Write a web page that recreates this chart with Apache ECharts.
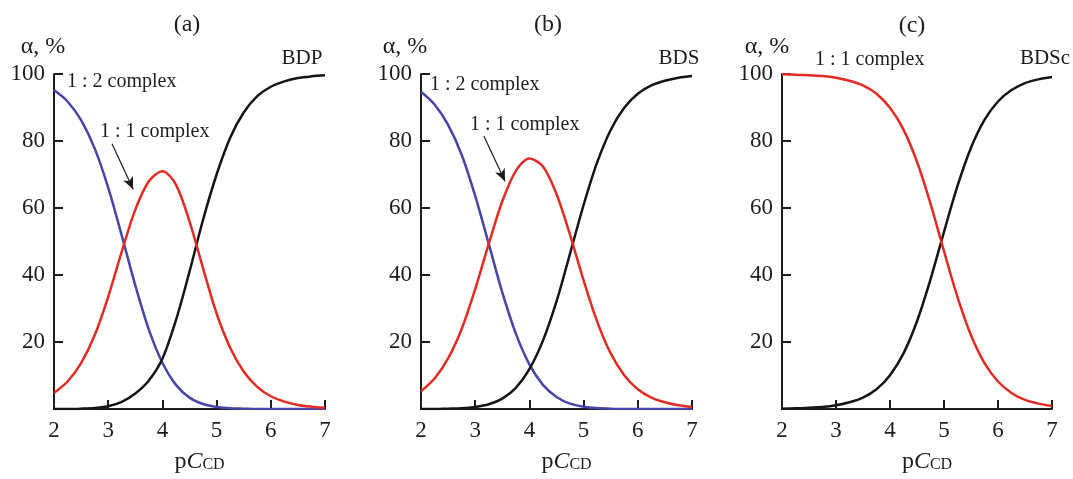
<!DOCTYPE html>
<html>
<head>
<meta charset="utf-8">
<script src="https://cdn.jsdelivr.net/npm/echarts@6/dist/echarts.min.js"></script>
<style>
  html, body { margin: 0; padding: 0; background: #fff; }
  #chart { width: 1073px; height: 479px; }
</style>
</head>
<body>
<div id="chart"></div>
<script>
// pC_CD values along the x axis
const pC = [2, 2.25, 2.5, 2.75, 3, 3.25, 3.5, 3.75, 4, 4.25, 4.5, 4.75, 5, 5.25, 5.5, 5.75, 6, 6.25, 6.5, 6.75, 7]
const xTicks = [2, 3, 4, 5, 6, 7]
const yTicks = [0, 20, 40, 60, 80, 100]

// (a) BDP
const bdp12 = [95.2, 91.8, 86.2, 77.8, 66.1, 51.8, 36.9, 23.7, 13.8, 7.2, 3.4, 1.5, 0.6, 0.2, 0.1, 0, 0, 0, 0, 0, 0]
const bdp11 = [4.8, 8.2, 13.7, 22, 33.5, 47, 59.5, 68, 71, 67, 56, 42, 28.5, 18.3, 11.2, 6.6, 3.8, 2.2, 1.2, 0.7, 0.4]
const bdpFree = [0, 0, 0.1, 0.3, 0.8, 2.1, 4.6, 8.5, 15, 26.5, 41, 56.5, 70, 81, 88.5, 93.4, 96.2, 97.8, 98.8, 99.3, 99.6]

// (b) BDS
const bds12 = [94.7, 90.9, 84.8, 75.9, 63.6, 49.3, 34.8, 22.5, 13.3, 7.2, 3.6, 1.6, 0.7, 0.3, 0.1, 0, 0, 0, 0, 0, 0]
const bds11 = [5.3, 9.1, 15.1, 23.9, 35.8, 49.3, 62, 71.1, 74.8, 72.4, 64.2, 52, 38.4, 26.1, 16.6, 10.1, 5.9, 3.4, 2, 1.1, 0.6]
const bdsFree = [0, 0, 0.1, 0.2, 0.6, 1.4, 3.1, 6.3, 11.9, 20.4, 32.1, 46.4, 60.9, 73.6, 83.3, 89.9, 94.1, 96.6, 98, 98.9, 99.4]

// (c) BDSc
const bdsc11 = [99.9, 99.8, 99.6, 99.4, 98.9, 98, 96.6, 94.1, 89.9, 83.4, 73.8, 61.3, 47.1, 33.4, 22, 13.7, 8.2, 4.8, 2.7, 1.6, 0.9]
const bdscFree = [0.1, 0.2, 0.4, 0.6, 1.1, 2, 3.4, 5.9, 10.1, 16.6, 26.2, 38.7, 52.9, 66.6, 78, 86.3, 91.8, 95.2, 97.3, 98.4, 99.1]

const FONT = '"Liberation Serif", "DejaVu Serif", serif'
const INK = '#1e1c1d'
const RED = '#e32b24'
const BLUE = '#4545aa'
const BLACK = '#151515'

const chart = echarts.init(document.getElementById('chart'))

// 三个面板的位置
const panels = [
  { left: 54, width: 271 },
  { left: 421, width: 271 },
  { left: 782, width: 270 }
]

const pairs = arr => pC.map((x, i) => [x, arr[i]])

const grids = panels.map(p => ({ left: p.left, top: 74, width: p.width, height: 341 }))

const xAxes = panels.map((p, i) => ({
  type: 'value',
  gridIndex: i,
  min: xTicks[0],
  max: xTicks[xTicks.length - 1],
  interval: 1,
  axisLine: { lineStyle: { color: INK, width: 2 } },
  axisTick: { inside: true, length: 9, lineStyle: { color: INK, width: 2 } },
  axisLabel: { color: INK, fontFamily: FONT, fontSize: 23, margin: 10 },
  splitLine: { show: false },
  name: '{p|p}{c|C}{s|CD}',
  nameLocation: 'middle',
  nameGap: 41,
  nameTextStyle: {
    padding: [0, 0, 0, 20],
    rich: {
      p: { fontFamily: FONT, fontSize: 24, color: INK, verticalAlign: 'bottom' },
      c: { fontFamily: FONT, fontSize: 24, fontStyle: 'italic', color: INK, verticalAlign: 'bottom' },
      s: { fontFamily: FONT, fontSize: 16, color: INK, verticalAlign: 'bottom', padding: [0, 0, 1, 0] }
    }
  }
}))

const yAxes = panels.map((p, i) => ({
  type: 'value',
  gridIndex: i,
  min: yTicks[0],
  max: yTicks[yTicks.length - 1],
  interval: 20,
  axisLine: { show: true, lineStyle: { color: INK, width: 2 } },
  axisTick: { show: true, inside: true, length: 9, lineStyle: { color: INK, width: 2 } },
  axisLabel: {
    color: INK, fontFamily: FONT, fontSize: 23, margin: 9,
    formatter: v => (v === 0 ? '' : String(v))
  },
  splitLine: { show: false }
}))

const line = (name, data, color, idx, extra) => Object.assign({
  name: name,
  type: 'line',
  xAxisIndex: idx,
  yAxisIndex: idx,
  data: pairs(data),
  smooth: 0.3,
  showSymbol: false,
  symbol: 'none',
  lineStyle: { color: color, width: 2.5 },
  itemStyle: { color: color },
  silent: true,
  animation: false
}, extra || {})

// 指向 1:1 曲线的箭头
const arrow = (from, to) => ({
  silent: true,
  animation: false,
  symbol: ['none', 'arrow'],
  symbolSize: [8, 12],
  label: { show: false },
  lineStyle: { color: INK, width: 1.2, type: 'solid' },
  itemStyle: { color: INK },
  emphasis: { disabled: true },
  data: [[{ coord: from }, { coord: to }]]
})

const series = [
  line('1:2', bdp12, BLUE, 0),
  line('free', bdpFree, BLACK, 0),
  line('1:1', bdp11, RED, 0, { markLine: arrow([3.07, 79.2], [3.46, 65.6]) }),
  line('1:2', bds12, BLUE, 1),
  line('free', bdsFree, BLACK, 1),
  line('1:1', bds11, RED, 1, { markLine: arrow([3.16, 81.5], [3.55, 68]) }),
  line('free', bdscFree, BLACK, 2),
  line('1:1', bdsc11, RED, 2)
]

const txt = (x, y, text, size, align) => ({
  type: 'text',
  x: x,
  y: y,
  silent: true,
  style: {
    text: text,
    fontFamily: FONT,
    fontSize: size,
    fill: INK,
    align: align || 'center',
    verticalAlign: 'middle'
  }
})

const graphic = [
  txt(187, 25, '(a)', 24),
  txt(548, 25, '(b)', 24),
  txt(912, 26, '(c)', 24),
  txt(43, 47, 'α, %', 24),
  txt(405, 47, 'α, %', 24),
  txt(767, 47, 'α, %', 24),
  txt(302, 58, 'BDP', 21),
  txt(679, 58, 'BDS', 21),
  txt(1045, 58, 'BDSc', 21),
  txt(67, 82, '1 : 2 complex', 20, 'left'),
  txt(430, 85, '1 : 2 complex', 20, 'left'),
  txt(100, 132, '1 : 1 complex', 20, 'left'),
  txt(470, 125, '1 : 1 complex', 20, 'left'),
  txt(815, 60, '1 : 1 complex', 20, 'left')
]

chart.setOption({
  animation: false,
  backgroundColor: '#fff',
  grid: grids,
  xAxis: xAxes,
  yAxis: yAxes,
  series: series,
  graphic: graphic
})
</script>
</body>
</html>
